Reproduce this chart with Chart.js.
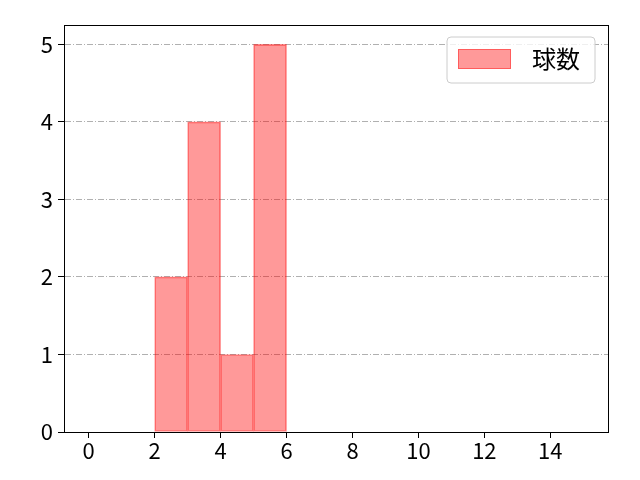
<!DOCTYPE html>
<html>
<head>
<meta charset="utf-8">
<script src="https://cdn.jsdelivr.net/npm/chart.js@4"></script>
<style>
html,body{margin:0;padding:0;background:#fff;}
#wrap{width:640px;height:480px;position:relative;}
</style>
</head>
<body>
<div id="wrap"><canvas id="c" width="640" height="480"></canvas></div>
<script>
const binCenters = [2.5, 3.5, 4.5, 5.5];
const binCounts = [2, 4, 1, 5];
const seriesLabel = '球数';
const xTicks = [0, 2, 4, 6, 8, 10, 12, 14];
const yTicks = [0, 1, 2, 3, 4, 5];

const FONT = "'Noto Sans CJK JP', 'DejaVu Sans', sans-serif";

const framePlugin = {
  id: 'frame',
  afterDraw(chart) {
    const {ctx, chartArea: a} = chart;
    ctx.save();
    ctx.strokeStyle = '#000';
    ctx.lineWidth = 1;
    ctx.setLineDash([]);
    ctx.strokeRect(Math.round(a.left) + 0.5, Math.round(a.top) + 0.5, Math.round(a.right - a.left), Math.round(a.bottom - a.top));
    // legend
    const lx = 447, ly = 37, lw = 148, lh = 46, r = 4;
    ctx.fillStyle = 'rgba(255,255,255,0.8)';
    ctx.strokeStyle = '#cccccc';
    ctx.beginPath();
    ctx.moveTo(lx + r, ly);
    ctx.arcTo(lx + lw, ly, lx + lw, ly + lh, r);
    ctx.arcTo(lx + lw, ly + lh, lx, ly + lh, r);
    ctx.arcTo(lx, ly + lh, lx, ly, r);
    ctx.arcTo(lx, ly, lx + lw, ly, r);
    ctx.closePath();
    ctx.fill();
    ctx.stroke();
    ctx.fillStyle = 'rgba(255,0,0,0.4)';
    ctx.strokeStyle = 'rgba(255,0,0,0.4)';
    ctx.fillRect(458, 49, 53, 20);
    ctx.strokeRect(458.5, 49.5, 52, 19);
    ctx.fillStyle = '#000';
    ctx.font = '24px ' + FONT;
    ctx.textBaseline = 'middle';
    ctx.textAlign = 'left';
    ctx.fillText(chart.data.datasets[0].label, 532, 59);
    ctx.restore();
  }
};

new Chart(document.getElementById('c'), {
  type: 'bar',
  data: {
    datasets: [{
      label: seriesLabel,
      data: binCenters.map((x, i) => ({x: x, y: binCounts[i]})),
      backgroundColor: 'rgba(255,0,0,0.4)',
      borderColor: 'rgba(255,0,0,0.45)',
      borderWidth: 1,
      barPercentage: 1,
      categoryPercentage: 1,
      borderSkipped: false
    }]
  },
  options: {
    responsive: false,
    animation: false,
    layout: {padding: {left: 0, right: 32, top: 25, bottom: 0}},
    plugins: {legend: {display: false}, tooltip: {enabled: false}},
    scales: {
      x: {
        type: 'linear',
        offset: false,
        min: -0.75,
        max: 15.75,
        afterBuildTicks(s) { s.ticks = xTicks.map(v => ({value: v})); },
        afterFit(s) { s.height = 48; },
        grid: {display: true, offset: false, drawOnChartArea: false, drawTicks: true, tickLength: 6, color: '#000', tickColor: '#000'},
        border: {display: true, color: '#000'},
        ticks: {font: {size: 22, family: FONT, lineHeight: 1.0}, color: '#000', padding: 2, maxRotation: 0, autoSkip: false}
      },
      y: {
        min: 0,
        max: 5.25,
        z: 1,
        afterBuildTicks(s) { s.ticks = yTicks.map(v => ({value: v})); },
        afterFit(s) { s.width = 64; },
        grid: {
          color: (c) => c.tick && c.tick.value === 0 ? 'rgba(0,0,0,0)' : '#b0b0b0',
          tickColor: '#000',
          tickLength: 6,
          lineWidth: 1
        },
        border: {display: true, color: '#000', dash: [6, 2, 1, 2]},
        ticks: {font: {size: 22, family: FONT}, color: '#000', padding: 5}
      }
    }
  },
  plugins: [framePlugin]
});
</script>
</body>
</html>
